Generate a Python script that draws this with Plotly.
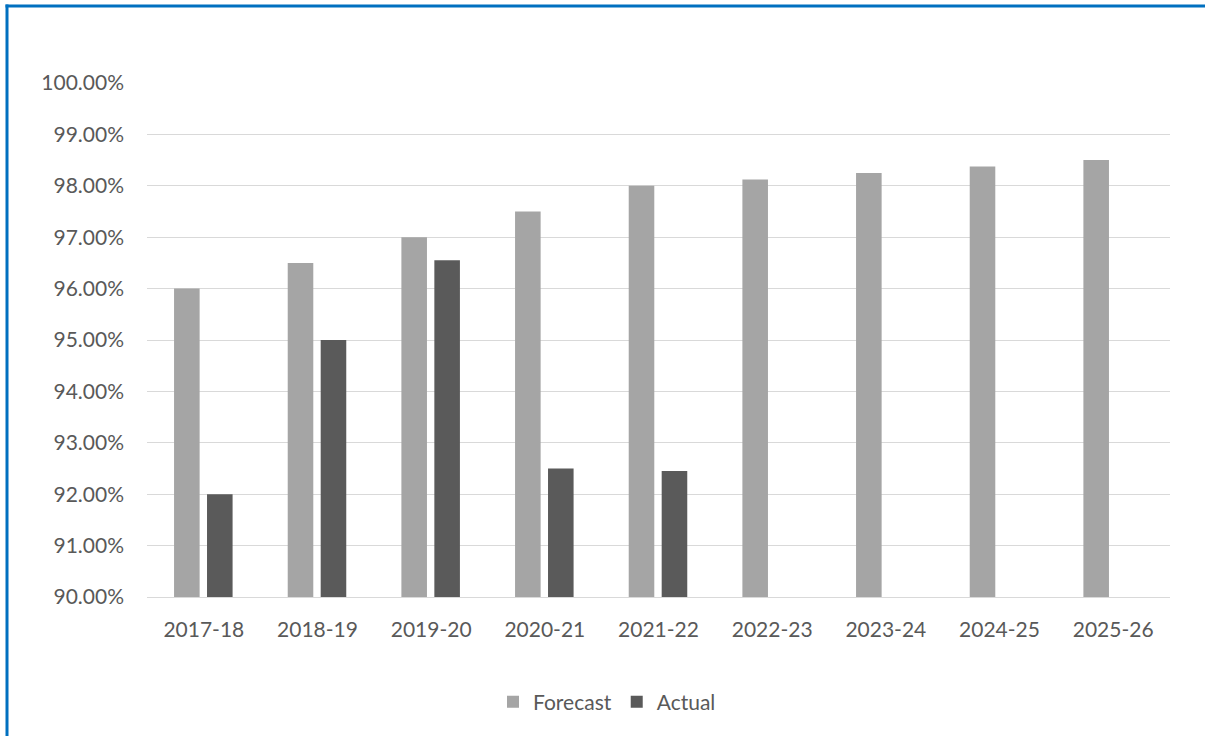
import plotly.graph_objects as go

# Annual rates, forecast vs actual (percent)
years = ["2017-18", "2018-19", "2019-20", "2020-21", "2021-22",
         "2022-23", "2023-24", "2024-25", "2025-26"]
forecast = [96.0, 96.5, 97.0, 97.5, 98.0, 98.125, 98.25, 98.375, 98.5]
actual = [92.0, 95.0, 96.55, 92.5, 92.45, None, None, None, None]
y_ticks = [90, 91, 92, 93, 94, 95, 96, 97, 98, 99, 100]
y_tick_labels = [f"{v:.2f}%" for v in y_ticks]

FONT = "Lato, Calibri, 'Open Sans', sans-serif"
TEXT = "#595959"

fig = go.Figure()
fig.add_trace(go.Bar(
    name="Forecast", x=years, y=forecast,
    marker=dict(color="#A5A5A5", line=dict(width=0)),
    width=0.225, offset=-0.262,
))
fig.add_trace(go.Bar(
    name="Actual", x=years, y=actual,
    marker=dict(color="#5A5A5A", line=dict(width=0)),
    width=0.225, offset=0.028,
))

W, H = 1205, 736
L, R, T, B = 147, 35, 83, 139
pw, ph = W - L - R, H - T - B

def px_x(p):
    return (p - L) / pw

def px_y(p):
    return (H - B - p) / ph

# Blue frame: top and left edges (the others run off the page)
frame = dict(color="#0070C0", width=3)
fig.add_shape(type="line", xref="paper", yref="paper",
              x0=px_x(5.5), x1=px_x(W), y0=px_y(6), y1=px_y(6),
              line=frame, layer="above")
fig.add_shape(type="line", xref="paper", yref="paper",
              x0=px_x(7), x1=px_x(7), y0=px_y(4.5), y1=px_y(H),
              line=frame, layer="above")

fig.update_layout(
    width=W, height=H,
    margin=dict(l=L, r=R, t=T, b=B, pad=0),
    paper_bgcolor="white", plot_bgcolor="white",
    barmode="overlay",
    font=dict(family=FONT, size=21, color=TEXT),
    showlegend=True,
    legend=dict(
        orientation="h", x=px_x(607), xanchor="center",
        y=px_y(702), yanchor="middle",
        font=dict(family=FONT, size=21, color=TEXT),
        itemwidth=30, traceorder="normal",
    ),
    xaxis=dict(
        showgrid=False, showline=True, linecolor="#D9D9D9", linewidth=1.3,
        ticks="", tickfont=dict(size=21, color=TEXT),
        ticklabelstandoff=14, fixedrange=True,
    ),
    yaxis=dict(
        range=[90, 100], tickvals=y_ticks, ticktext=y_tick_labels,
        showgrid=True, gridcolor="#D9D9D9", gridwidth=1.3,
        zeroline=False, showline=False, ticks="",
        tickfont=dict(size=21, color=TEXT),
        ticklabelstandoff=22, fixedrange=True,
    ),
)

fig.write_html("out.html")
